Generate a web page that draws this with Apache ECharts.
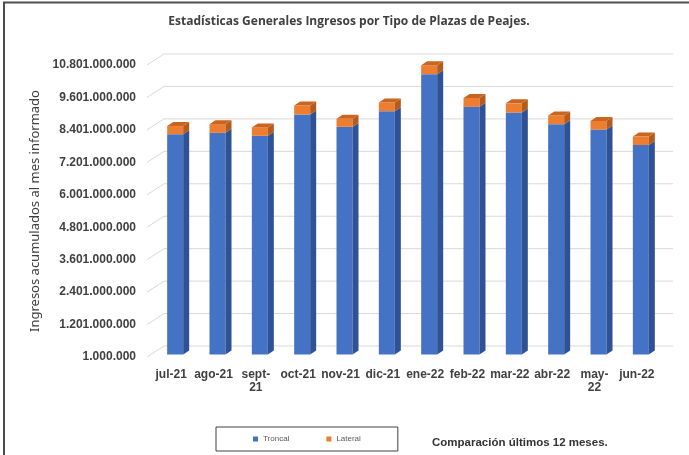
<!DOCTYPE html>
<html>
<head>
<meta charset="utf-8">
<script src="https://cdn.jsdelivr.net/npm/echarts@6/dist/echarts.min.js"></script>
<style>
html, body { margin: 0; padding: 0; background: #fff; }
#main { width: 689px; height: 455px; }
</style>
</head>
<body>
<div id="main"></div>
<script>
const months = ['jul-21', 'ago-21', 'sept-\n21', 'oct-21', 'nov-21', 'dic-21', 'ene-22', 'feb-22', 'mar-22', 'abr-22', 'may-\n22', 'jun-22'];
const troncal = [8.15e9, 8.20e9, 8.09e9, 8.88e9, 8.42e9, 9.00e9, 10.37e9, 9.16e9, 8.95e9, 8.52e9, 8.32e9, 7.75e9];
const lateral = [0.30e9, 0.32e9, 0.31e9, 0.33e9, 0.30e9, 0.32e9, 0.33e9, 0.33e9, 0.34e9, 0.32e9, 0.32e9, 0.31e9];
const yTickLabels = ['1.000.000', '1.201.000.000', '2.401.000.000', '3.601.000.000', '4.801.000.000',
  '6.001.000.000', '7.201.000.000', '8.401.000.000', '9.601.000.000', '10.801.000.000'];
const yBase = 1000000;     // axis starts at 1.000.000
const yStep = 1200000000;

const barData = months.map((m, i) => [i, troncal[i], lateral[i]]);
const gridData = yTickLabels.map((t, i) => [0, i * yStep]);

// 3d look
const W = 16, DX = 6, DY = 4, SHIFT_X = 4, SHIFT_Y = 2.5;

function barGeom(api) {
  const i = api.value(0);
  const t = api.value(1);
  const l = api.value(2);
  const p0 = api.coord([i, 0]);
  const p1 = api.coord([i, t - yBase]);
  const p2 = api.coord([i, t + l - yBase]);
  const cx = p0[0] + SHIFT_X;
  return {
    x0: cx - W / 2, x1: cx + W / 2,
    yb: p0[1] - SHIFT_Y, yt: p1[1] - SHIFT_Y, yl: p2[1] - SHIFT_Y
  };
}

function renderTroncal(params, api) {
  const g = barGeom(api);
  return {
    type: 'group',
    children: [
      { type: 'rect', shape: { x: g.x0, y: g.yt, width: W, height: g.yb - g.yt }, style: { fill: '#4472C4' } },
      { type: 'polygon', shape: { points: [[g.x1, g.yb], [g.x1 + DX, g.yb - DY], [g.x1 + DX, g.yt - DY], [g.x1, g.yt]] }, style: { fill: '#2F5294' } }
    ]
  };
}

function renderLateral(params, api) {
  const g = barGeom(api);
  return {
    type: 'group',
    children: [
      { type: 'rect', shape: { x: g.x0, y: g.yl, width: W, height: g.yt - g.yl }, style: { fill: '#ED7D31' } },
      { type: 'polygon', shape: { points: [[g.x1, g.yt], [g.x1 + DX, g.yt - DY], [g.x1 + DX, g.yl - DY], [g.x1, g.yl]] }, style: { fill: '#B35C1E' } },
      { type: 'polygon', shape: { points: [[g.x0, g.yl], [g.x0 + DX, g.yl - DY], [g.x1 + DX, g.yl - DY], [g.x1, g.yl]] }, style: { fill: '#C9651F' } }
    ]
  };
}

function renderGridLine(params, api) {
  const y = api.coord([0, api.value(1)])[1];
  const cs = params.coordSys;
  return {
    type: 'polyline',
    shape: { points: [[cs.x - 3, y], [cs.x + 14, y - 11], [cs.x + cs.width + 15, y - 11]] },
    style: { stroke: '#d9d9d9', lineWidth: 1, fill: null },
    silent: true
  };
}

const myChart = echarts.init(document.getElementById('main'));
const option = {
  animation: false,
  backgroundColor: '#fff',
  textStyle: { fontFamily: 'Liberation Sans' },
  graphic: [
    { type: 'line', shape: { x1: 3, y1: 2.5, x2: 689, y2: 2.5 }, style: { stroke: '#4d4d4d', lineWidth: 2 } },
    { type: 'line', shape: { x1: 4, y1: 2, x2: 4, y2: 455 }, style: { stroke: '#4d4d4d', lineWidth: 2 } },
    {
      type: 'text', x: 349, y: 22,
      style: {
        text: 'Estadísticas Generales Ingresos por Tipo de Plazas de Peajes.',
        font: 'bold 12px "Open Sans"', fill: '#404040', textAlign: 'center', textVerticalAlign: 'middle'
      }
    },
    {
      type: 'text', x: 432, y: 443,
      style: {
        text: 'Comparación últimos 12 meses.',
        font: 'bold 11.5px "Liberation Sans"', fill: '#333', textAlign: 'left', textVerticalAlign: 'middle'
      }
    }
  ],
  legend: {
    data: ['Troncal', 'Lateral'],
    left: 216,
    top: 427,
    icon: 'rect',
    itemWidth: 5,
    itemHeight: 5,
    itemGap: 37,
    padding: [8, 37, 8, 37],
    borderColor: '#404040',
    borderWidth: 1,
    textStyle: { fontSize: 8, color: '#595959', fontFamily: 'Liberation Sans' }
  },
  grid: { left: 150, right: 31, top: 65, bottom: 98 },
  xAxis: {
    type: 'category',
    data: months,
    axisLine: { show: false },
    axisTick: { show: false },
    axisLabel: {
      interval: 0,
      margin: 11,
      fontSize: 12,
      fontWeight: 'bold',
      lineHeight: 13,
      color: '#404040'
    }
  },
  yAxis: {
    type: 'value',
    min: 0,
    max: 9 * yStep,
    interval: yStep,
    name: 'Ingresos acumulados al mes informado',
    nameLocation: 'middle',
    nameRotate: 90,
    nameGap: 104,
    nameTextStyle: { fontSize: 13, color: '#404040', fontFamily: 'Noto Sans' },
    axisLine: { show: false },
    axisTick: { show: false },
    splitLine: { show: false },
    axisLabel: {
      margin: 14,
      fontSize: 12,
      fontWeight: 'bold',
      color: '#404040',
      formatter: v => yTickLabels[Math.round(v / yStep)]
    }
  },
  series: [
    { name: 'grid', type: 'custom', renderItem: renderGridLine, data: gridData, z: 1, silent: true },
    { name: 'Troncal', type: 'custom', renderItem: renderTroncal, data: barData, itemStyle: { color: '#4472C4' }, z: 2 },
    { name: 'Lateral', type: 'custom', renderItem: renderLateral, data: barData, itemStyle: { color: '#ED7D31' }, z: 3 }
  ]
};
myChart.setOption(option);
</script>
</body>
</html>
